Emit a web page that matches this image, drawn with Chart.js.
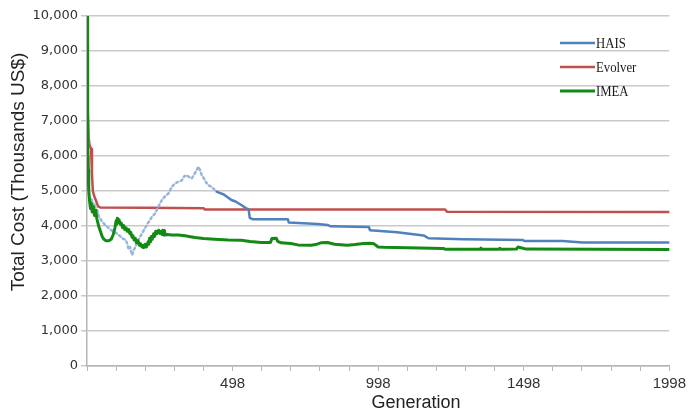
<!DOCTYPE html>
<html lang="en">
<head>
<meta charset="UTF-8">
<title>Total Cost x Generation</title>
<script src="https://cdn.jsdelivr.net/npm/chart.js@4.4.1/dist/chart.umd.min.js"></script>
<style>
    body { margin: 0; background: #ffffff; }
    #grafico { display: block; }
</style>
</head>
<body>
<canvas id="grafico" width="690" height="412"></canvas>
<script>
// Valores: geração x custo total (milhares de US$)
const geracoesHais = [0, 2, 4, 6, 10, 15, 20, 25, 30, 35, 41, 50, 60, 69, 80, 90, 100, 109, 120, 133, 138, 143, 148, 152, 155, 160, 166, 172, 180, 189, 200, 212, 222, 234, 245, 257, 268, 280, 290, 297, 305, 314, 325, 334, 342, 350, 360, 370, 377, 382, 388, 394, 402, 411, 420, 428, 436, 445, 451, 470, 496, 510, 530, 547, 555, 559, 570, 690, 693, 792, 826, 837, 968, 972, 1065, 1156, 1173, 1293, 1497, 1502, 1634, 1702, 2000];
const custoHais = [9800, 8000, 6000, 5000, 4700, 4800, 4600, 4650, 4500, 4450, 4270, 4150, 4050, 3980, 3900, 3850, 3800, 3750, 3650, 3600, 3500, 3330, 3400, 3250, 3170, 3300, 3400, 3550, 3650, 3790, 3950, 4120, 4250, 4360, 4550, 4740, 4850, 4930, 5100, 5170, 5230, 5265, 5300, 5420, 5457, 5400, 5362, 5500, 5600, 5695, 5600, 5457, 5350, 5219, 5150, 5122, 5050, 4980, 4960, 4900, 4743, 4700, 4600, 4505, 4480, 4230, 4190, 4190, 4100, 4060, 4030, 3990, 3970, 3880, 3820, 3730, 3650, 3620, 3600, 3570, 3570, 3530, 3530];

const geracoesEvolver = [0, 3, 6, 9, 14, 17, 20, 25, 32, 38, 45, 200, 400, 405, 1230, 1236, 2000];
const custoEvolver = [9200, 7300, 6500, 6300, 6200, 5500, 5000, 4850, 4700, 4560, 4530, 4520, 4510, 4470, 4470, 4410, 4400];

const geracoesImea = [0, 1, 2, 3, 4, 6, 9, 12, 15, 18, 22, 26, 30, 34, 40, 46, 52, 58, 65, 75, 83, 90, 96, 100, 102, 104, 107, 110, 114, 118, 122, 126, 130, 134, 138, 143, 147, 150, 155, 158, 162, 166, 170, 175, 180, 183, 189, 192, 195, 200, 204, 207, 210, 212, 215, 218, 221, 224, 229, 232, 236, 240, 246, 250, 254, 257, 260, 263, 266, 268, 275, 290, 314, 337, 350, 371, 400, 439, 485, 530, 560, 598, 630, 635, 650, 655, 667, 700, 724, 770, 790, 803, 826, 850, 894, 920, 950, 970, 986, 1000, 1019, 1100, 1224, 1230, 1350, 1353, 1356, 1415, 1418, 1421, 1475, 1480, 1490, 1509, 2000];
const custoImea = [10000, 9000, 7800, 6500, 5600, 5000, 4700, 4500, 4650, 4400, 4550, 4300, 4450, 4200, 4000, 3850, 3700, 3620, 3580, 3580, 3620, 3750, 3950, 4150, 4050, 4220, 4100, 4180, 4050, 4080, 3950, 4010, 3900, 3950, 3850, 3900, 3780, 3820, 3680, 3720, 3600, 3650, 3520, 3580, 3450, 3500, 3400, 3450, 3380, 3480, 3400, 3460, 3550, 3480, 3650, 3550, 3700, 3620, 3780, 3700, 3850, 3780, 3880, 3790, 3840, 3760, 3880, 3740, 3870, 3740, 3760, 3740, 3740, 3720, 3700, 3670, 3640, 3620, 3600, 3590, 3560, 3530, 3530, 3640, 3650, 3560, 3520, 3500, 3460, 3450, 3480, 3520, 3530, 3480, 3450, 3470, 3500, 3510, 3490, 3400, 3390, 3380, 3360, 3335, 3335, 3370, 3335, 3335, 3360, 3335, 3340, 3400, 3380, 3340, 3330];

// Marcas do eixo X (a cada 100 gerações) e os rótulos que aparecem
const marcasX = [0, 100, 200, 300, 400, 500, 600, 700, 800, 900, 1000, 1100, 1200, 1300, 1400, 1500, 1600, 1700, 1800, 1900, 2000];
const posicoesRotulosX = [500, 1000, 1500, 2000];
const rotulosX = ['498', '998', '1498', '1998'];
const nomesSeries = ['HAIS', 'Evolver', 'IMEA'];

// Até essa geração a curva do HAIS aparece pontilhada
const fimTrechoPontilhado = 450;

function montarPontos(geracoes, custos) {
    return geracoes.map((g, i) => ({ x: g, y: custos[i] }));
}

// Títulos dos eixos e legenda desenhados por cima do gráfico
const textosExtras = {
    id: 'textosExtras',
    afterDraw(chart) {
        const ctx = chart.ctx;
        ctx.save();
        ctx.fillStyle = '#222222';
        ctx.font = '19px "Liberation Sans", Arial, sans-serif';
        ctx.textAlign = 'center';
        ctx.textBaseline = 'middle';
        ctx.save();
        ctx.translate(19, 172);
        ctx.rotate(-Math.PI / 2);
        ctx.fillText('Total Cost (Thousands US$)', 0, 0);
        ctx.restore();
        ctx.font = '18px "Liberation Sans", Arial, sans-serif';
        ctx.textBaseline = 'alphabetic';
        ctx.fillText('Generation', 416, 408);

        // legenda
        const linhasY = [43, 67, 91];
        chart.data.datasets.forEach((ds, i) => {
            ctx.strokeStyle = ds.borderColor;
            ctx.lineWidth = ds.borderWidth;
            ctx.beginPath();
            ctx.moveTo(560, linhasY[i]);
            ctx.lineTo(595, linhasY[i]);
            ctx.stroke();
            ctx.save();
            ctx.translate(596, linhasY[i] + 1);
            ctx.scale(0.85, 1);
            ctx.fillStyle = '#1a1a1a';
            ctx.font = '15px "Liberation Serif", "Times New Roman", serif';
            ctx.textAlign = 'left';
            ctx.textBaseline = 'middle';
            ctx.fillText(ds.label, 0, 0);
            ctx.restore();
        });
        ctx.restore();
    }
};

const ctx = document.getElementById('grafico').getContext('2d');
const chart = new Chart(ctx, {
    type: 'line',
    data: {
        datasets: [
            {
                label: nomesSeries[0],
                data: montarPontos(geracoesHais, custoHais),
                borderColor: '#4f81bd',
                borderWidth: 2.5,
                order: 1,
                segment: {
                    borderColor: c => c.p1.parsed.x <= fimTrechoPontilhado ? '#98b6dc' : undefined,
                    borderDash: c => c.p1.parsed.x <= fimTrechoPontilhado ? [2, 3] : undefined
                }
            },
            {
                label: nomesSeries[1],
                data: montarPontos(geracoesEvolver, custoEvolver),
                borderColor: '#c0504d',
                borderWidth: 2.5,
                order: 2
            },
            {
                label: nomesSeries[2],
                data: montarPontos(geracoesImea, custoImea),
                borderColor: '#138a13',
                borderWidth: 3,
                order: 0
            }
        ]
    },
    options: {
        responsive: false,
        animation: false,
        parsing: false,
        elements: {
            point: { radius: 0 },
            line: { tension: 0, borderCapStyle: 'round', borderJoinStyle: 'round' }
        },
        layout: {
            padding: { left: 0, right: 16, top: 16, bottom: 0 }
        },
        plugins: {
            legend: { display: false },
            tooltip: { enabled: false }
        },
        scales: {
            x: {
                type: 'linear',
                min: 0,
                max: 2000,
                afterBuildTicks: scale => {
                    scale.ticks = marcasX.map(v => ({ value: v }));
                },
                afterFit: scale => {
                    scale.height = 46;
                },
                grid: {
                    drawOnChartArea: false,
                    color: '#b5b5b5',
                    tickLength: 5,
                    lineWidth: 1
                },
                border: { color: '#b5b5b5', width: 1.5 },
                ticks: {
                    autoSkip: false,
                    maxRotation: 0,
                    padding: 4,
                    color: '#333333',
                    font: { family: '"Liberation Sans", Arial, sans-serif', size: 15 },
                    callback: v => {
                        const i = posicoesRotulosX.indexOf(v);
                        return i >= 0 ? rotulosX[i] : '';
                    }
                }
            },
            y: {
                min: 0,
                max: 10000,
                afterFit: scale => {
                    scale.width = 87;
                },
                grid: {
                    color: '#c9c9c9',
                    lineWidth: 1.5,
                    tickLength: 6
                },
                border: { color: '#b5b5b5', width: 1.5 },
                ticks: {
                    stepSize: 1000,
                    padding: 3,
                    color: '#333333',
                    font: { family: '"DejaVu Sans", sans-serif', size: 13 },
                    callback: v => v.toLocaleString('en-US')
                }
            }
        }
    },
    plugins: [textosExtras]
});
</script>
</body>
</html>
